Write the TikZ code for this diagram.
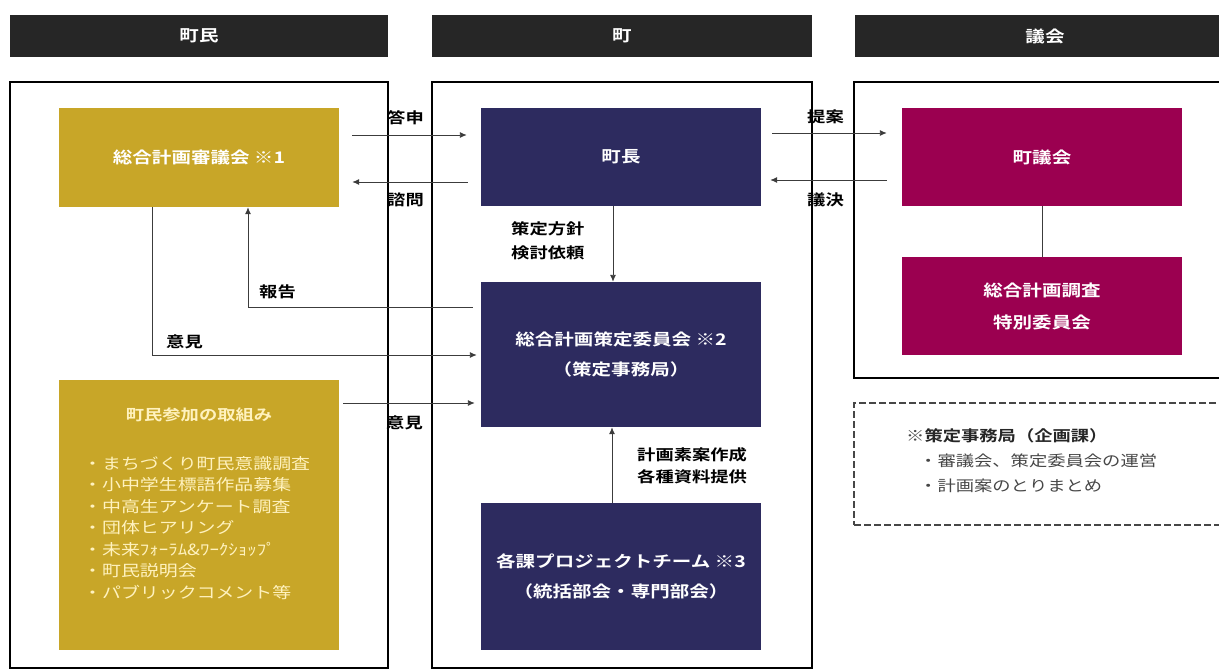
\documentclass[tikz,border=0pt]{standalone}
\usepackage{fontspec}
\setmainfont{Noto Sans CJK JP}[FakeStretch=1.22, BoldFont={Noto Sans CJK JP Bold}]
\usetikzlibrary{arrows.meta}
\definecolor{hdrgray}{RGB}{38,38,38}
\definecolor{goldc}{RGB}{200,166,40}
\definecolor{navyc}{RGB}{45,43,95}
\definecolor{crimc}{RGB}{155,0,80}
\definecolor{palec}{RGB}{255,242,190}
\definecolor{linec}{RGB}{60,60,60}
\definecolor{notec}{RGB}{70,70,70}
\tikzset{
  hdr/.style={fill=hdrgray, text=white, minimum height=42pt, inner sep=0pt,
    font=\bfseries\fontsize{16}{18}\selectfont},
  colframe/.style={draw=black, line width=1.6pt, fill=none, inner sep=0pt},
  box/.style={minimum width=280pt, inner sep=0pt, align=center, text=white,
    font=\bfseries\fontsize{16}{30}\selectfont},
  goldbox/.style={box, fill=goldc},
  navybox/.style={box, fill=navyc},
  crimbox/.style={box, fill=crimc},
  lbl/.style={inner sep=0pt, text=black, align=left,
    font=\bfseries\fontsize{15}{24}\selectfont},
  conn/.style={draw=linec, line width=0.9pt},
  arr/.style={conn, -{Latex[length=7pt,width=6pt]}},
}
\begin{document}
\begin{tikzpicture}[x=1pt,y=-1pt]
\useasboundingbox (0,0) rectangle (1219,670);
\clip (0,0) rectangle (1219,670);

% headers
\node[hdr, minimum width=378pt] (h1) at (199,36) {町民};
\node[hdr, minimum width=380pt] (h2) at (622,36) {町};
\node[hdr, minimum width=380pt] (h3) at (1045,36) {議会};

% column frames
\node[colframe, minimum width=378pt, minimum height=586pt] (c1) at (199,375) {};
\node[colframe, minimum width=380pt, minimum height=586pt] (c2) at (622,375) {};
\node[colframe, minimum width=380pt, minimum height=296pt] (c3) at (1044,230) {};

% boxes
\node[goldbox, minimum height=99pt] (shingi) at (199,157.5) {総合計画審議会 ※1};
\node[goldbox, minimum height=270pt] (sanka) at (199,515) {};
\node[inner sep=0pt, text=palec, font=\bfseries\fontsize{15}{18}\selectfont] (sankat) at (199,415) {町民参加の取組み};
\node[inner sep=0pt, anchor=north west, align=left, text=palec,
  font=\fontsize{15.5}{21.5}\selectfont] (sankal) at (83,456)
  {・まちづくり町民意識調査\\・小中学生標語作品募集\\・中高生アンケート調査\\・団体ヒアリング\\・未来ﾌｫｰﾗﾑ\&ﾜｰｸｼｮｯﾌﾟ\\・町民説明会\\・パブリックコメント等};

\node[navybox, minimum height=98pt] (chocho) at (621,157) {町長};
\node[navybox, minimum height=145pt] (iinkai) at (621,354.5) {総合計画策定委員会 ※2\\（策定事務局）};
\node[navybox, minimum height=147pt] (pt) at (621,576.5) {各課プロジェクトチーム ※3\\（統括部会・専門部会）};

\node[crimbox, minimum height=98pt] (gikai) at (1042,157) {町議会};
\node[crimbox, minimum height=98pt, font=\bfseries\fontsize{16}{32}\selectfont] (tokubetsu) at (1042,306) {総合計画調査\\特別委員会};

% note
\node[draw=notec, dashed, dash pattern=on 7pt off 3pt, line width=1.2pt,
  minimum width=380pt, minimum height=122pt, inner sep=0pt] (note) at (1044,464) {};
\node[inner sep=0pt, anchor=north west, align=left, text=notec,
  font=\fontsize{15}{25}\selectfont] (notet) at (906,428)
  {※\textbf{\color{black!85}策定事務局（企画課）}\\\hspace*{13pt}・審議会、策定委員会の運営\\\hspace*{13pt}・計画案のとりまとめ};

% connectors
\draw[arr, shorten <=13pt, shorten >=14pt] (shingi.east |- 0,135) -- (chocho.west |- 0,135);
\draw[arr, shorten <=13pt, shorten >=13pt] (chocho.west |- 0,182) -- (shingi.east |- 0,182);
\draw[arr, shorten <=11pt, shorten >=15pt] (chocho.east |- 0,133) -- (gikai.west |- 0,133);
\draw[arr, shorten <=15pt, shorten >=9pt] (gikai.west |- 0,180) -- (chocho.east |- 0,180);
\draw[arr] ([xshift=-8pt]chocho.south) -- ([xshift=-8pt]iinkai.north);
\draw[arr] ([xshift=-9pt]pt.north) -- ([xshift=-9pt]iinkai.south);
\draw[arr, shorten <=8pt] (iinkai.west |- 0,307) -| ([xshift=49pt]shingi.south);
\draw[arr, shorten >=4pt] ([xshift=-47pt]shingi.south) |- (iinkai.west |- 0,355);
\draw[arr, shorten <=4pt, shorten >=6pt] (sanka.east |- 0,403) -- (iinkai.west |- 0,403);
\draw[conn] (gikai.south) -- (tokubetsu.north);

% labels
\node[lbl, anchor=west] (ltoshin) at (387,118) {答申};
\node[lbl, anchor=west] (lshimon) at (387,200) {諮問};
\node[lbl, anchor=west] (lhoukoku) at (259,292) {報告};
\node[lbl, anchor=west] (liken1) at (166,342) {意見};
\node[lbl, anchor=west] (liken2) at (386,423) {意見};
\node[lbl, anchor=north west] (lhoushin) at (511,221) {策定方針\\検討依頼};
\node[lbl, anchor=north west, font=\bfseries\fontsize{15}{22}\selectfont] (lsoan) at (637,447) {計画素案作成\\各種資料提供};
\node[lbl, anchor=west] (lteian) at (807,117) {提案};
\node[lbl, anchor=west] (lgiketsu) at (807,200) {議決};
\end{tikzpicture}
\end{document}
